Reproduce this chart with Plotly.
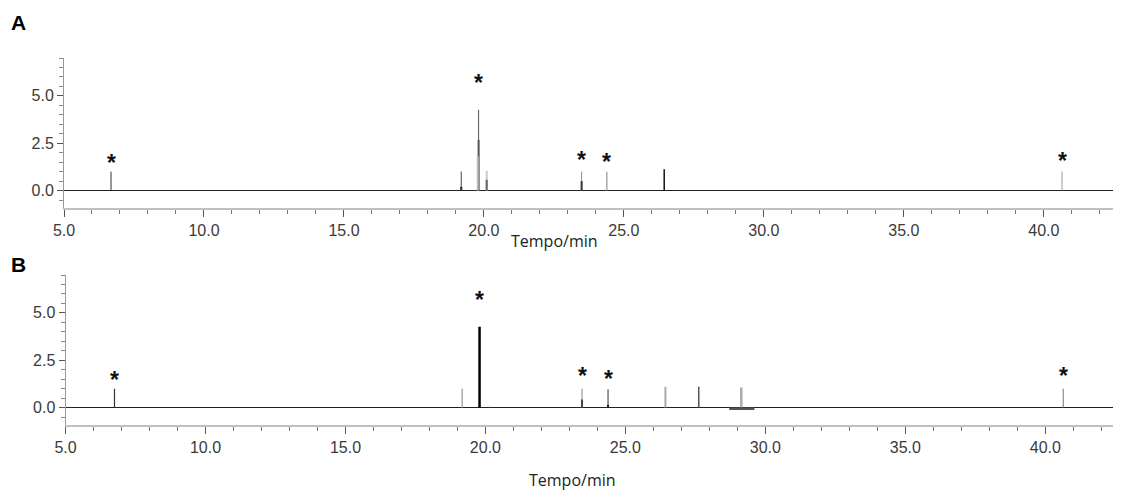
import plotly.graph_objects as go

# ---------------- data ----------------
# Panel A sticks: retention time (min), intensity
A_times   = [6.68, 19.19, 19.19, 19.81, 19.81, 19.78, 20.10, 20.10, 23.49, 23.49, 24.39, 26.44, 40.65]
A_heights = [1.00, 1.00, 0.20, 4.27, 2.68, 1.80, 1.04, 0.57, 1.00, 0.50, 1.00, 1.13, 1.00]
A_shades  = ["#333", "#444", "#222", "#555", "#555", "#bbb", "#c8c8c8", "#666", "#888", "#333", "#aaa", "#111", "#999"]
A_widths  = [1, 1, 2, 1, 2, 2, 2, 2, 1, 2, 1.5, 1.5, 1]

# Panel B sticks
B_times   = [6.75, 19.17, 19.79, 20.10, 23.45, 23.45, 24.38, 24.38, 26.43, 27.62, 29.14, 40.64]
B_heights = [1.00, 1.00, 4.27, 0.05, 1.00, 0.43, 0.96, 0.15, 1.10, 1.10, 1.06, 1.00]
B_shades  = ["#333", "#aaa", "#000", "#666", "#888", "#444", "#333", "#222", "#aaa", "#555", "#aaa", "#777"]
B_widths  = [1.2, 1.5, 2.5, 1, 1, 2, 1, 2, 2, 1.5, 2.5, 1]

# Panel B low broad hump below baseline (start, end, level)
B_hump = [28.71, 29.61, -0.06]

# asterisk-marked peaks (time, label height)
A_star_t = [6.68, 19.81, 23.49, 24.39, 40.65]
A_star_y = [1.57, 5.77, 1.73, 1.59, 1.68]
B_star_t = [6.75, 19.79, 23.45, 24.38, 40.64]
B_star_y = [1.58, 5.78, 1.75, 1.63, 1.75]

x_ticks = [5.0, 10.0, 15.0, 20.0, 25.0, 30.0, 35.0, 40.0]
y_ticks = [0.0, 2.5, 5.0]
x_title = "Tempo/min"
panel_labels = ["A", "B"]

# ---------------- figure ----------------
OFF = 8  # page body margin
W, H = 1121 - OFF, 491 - OFF


def px(x):
    return (x - OFF) / W


def py(y):
    return 1 - (y - OFF) / H


fig = go.Figure()


def add_sticks(times, heights, shades, widths, xa, ya):
    for t, h, c, w in zip(times, heights, shades, widths):
        fig.add_trace(go.Scatter(x=[t, t], y=[0, h], mode="lines",
                                 line=dict(color=c, width=w),
                                 xaxis=xa, yaxis=ya, showlegend=False,
                                 hoverinfo="skip"))


add_sticks(A_times, A_heights, A_shades, A_widths, "x", "y")
add_sticks(B_times, B_heights, B_shades, B_widths, "x2", "y2")
fig.add_trace(go.Scatter(x=[B_hump[0], B_hump[1]], y=[B_hump[2], B_hump[2]],
                         mode="lines", line=dict(color="#555", width=2.5),
                         xaxis="x2", yaxis="y2", showlegend=False, hoverinfo="skip"))

star_font = dict(family="Liberation Sans", size=23, color="#111")
for t, y in zip(A_star_t, A_star_y):
    fig.add_annotation(x=t, y=y, xref="x", yref="y", text="<b>*</b>", showarrow=False,
                       font=star_font, yanchor="middle", yshift=-2)
for t, y in zip(B_star_t, B_star_y):
    fig.add_annotation(x=t, y=y, xref="x2", yref="y2", text="<b>*</b>", showarrow=False,
                       font=star_font, yanchor="middle", yshift=-2)

xr = [5.0, 42.65]
yr = [-0.92, 7.0]
tickfont = dict(family="Liberation Sans", size=16, color="#3a3a3a")

xcommon = dict(range=xr, tickvals=x_ticks, tickformat=".1f", ticks="outside",
               ticklen=7, tickcolor="#555", tickwidth=1,
               minor=dict(dtick=1, tick0=5, ticks="outside", ticklen=4, tickcolor="#777"),
               showline=True, linecolor="#c0c0c0", linewidth=1.5,
               showgrid=False, zeroline=False, tickfont=tickfont, automargin=False)
ycommon = dict(range=yr, tickvals=y_ticks, tickformat=".1f", ticks="outside",
               ticklen=6, tickcolor="#555", tickwidth=1,
               minor=dict(dtick=0.5, tick0=0, ticks="outside", ticklen=4, tickcolor="#888"),
               showline=True, linecolor="#999", linewidth=1,
               showgrid=False, zeroline=True, zerolinecolor="#222", zerolinewidth=1,
               tickfont=tickfont, automargin=False)

fig.update_layout(
    width=W, height=H,
    margin=dict(l=0, r=0, t=0, b=0),
    paper_bgcolor="white", plot_bgcolor="white",
    xaxis=dict(domain=[px(64), px(1118)], anchor="y", **xcommon),
    yaxis=dict(domain=[py(208), py(58)], anchor="x", **ycommon),
    xaxis2=dict(domain=[px(65.5), px(1119.5)], anchor="y2", **xcommon),
    yaxis2=dict(domain=[py(425), py(275)], anchor="x2", **ycommon),
)

title_font = dict(family="Open Sans", size=16, color="#222")
fig.add_annotation(x=px(554), y=py(241), xref="paper", yref="paper", text=x_title,
                   showarrow=False, font=title_font, xanchor="center", yanchor="middle")
fig.add_annotation(x=px(572), y=py(480), xref="paper", yref="paper", text=x_title,
                   showarrow=False, font=title_font, xanchor="center", yanchor="middle")

letter_font = dict(family="Liberation Sans", size=21, color="#000")
fig.add_annotation(x=px(18), y=py(22), xref="paper", yref="paper", text="<b>" + panel_labels[0] + "</b>",
                   showarrow=False, font=letter_font, xanchor="center", yanchor="middle")
fig.add_annotation(x=px(18), y=py(264), xref="paper", yref="paper", text="<b>" + panel_labels[1] + "</b>",
                   showarrow=False, font=letter_font, xanchor="center", yanchor="middle")

fig.write_html("out.html")
